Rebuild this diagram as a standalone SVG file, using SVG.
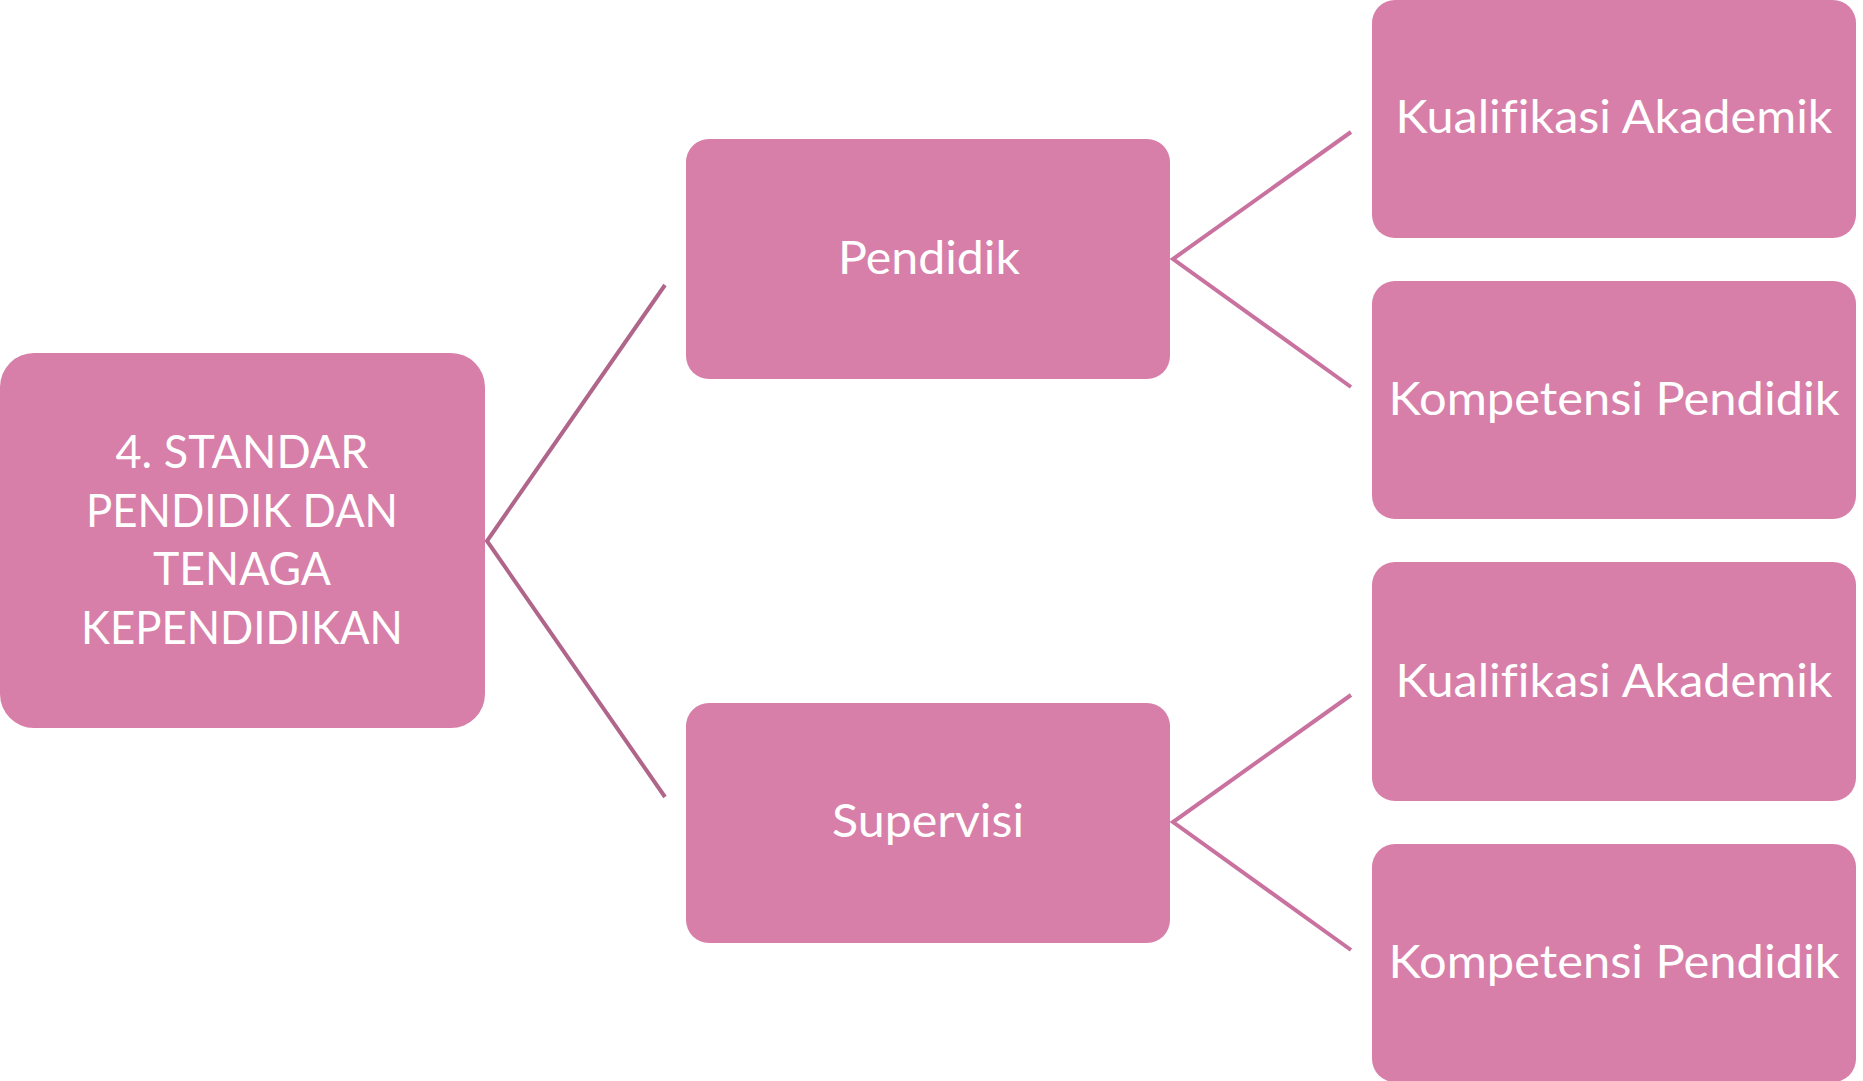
<svg xmlns="http://www.w3.org/2000/svg" width="1863" height="1081" viewBox="0 0 1863 1081">
<style>
.box{fill:#d77ea9;}
.t{font-family:Lato,"Open Sans","Liberation Sans",sans-serif;font-size:46px;fill:#ffffff;text-anchor:middle;font-variant-ligatures:none;font-feature-settings:"liga" 0;}
.c1{stroke:#b0658a;stroke-width:4;fill:none;}
.c2{stroke:#c9729f;stroke-width:4;fill:none;}
</style>
<rect width="1863" height="1081" fill="#ffffff"/>
<g id="connectors">
<polyline class="c1" points="665,285 487,541 665,797"/>
<polyline class="c2" points="1351,132 1173,259 1351,387"/>
<polyline class="c2" points="1351,695 1173,822 1351,950"/>
</g>
<g id="root">
<rect class="box" x="0" y="353" width="485" height="375" rx="34"/>
<text class="t" x="242" y="468" textLength="253" lengthAdjust="spacingAndGlyphs">4. STANDAR</text>
<text class="t" x="242" y="527" textLength="312" lengthAdjust="spacingAndGlyphs">PENDIDIK DAN</text>
<text class="t" x="242" y="585" textLength="178" lengthAdjust="spacingAndGlyphs">TENAGA</text>
<text class="t" x="242" y="644" textLength="322" lengthAdjust="spacingAndGlyphs">KEPENDIDIKAN</text>
</g>
<g id="pendidik">
<rect class="box" x="686" y="139" width="484" height="240" rx="23"/>
<text class="t" x="929" y="274" textLength="182" lengthAdjust="spacingAndGlyphs">Pendidik</text>
</g>
<g id="supervisi">
<rect class="box" x="686" y="703" width="484" height="240" rx="23"/>
<text class="t" x="928" y="837" textLength="192" lengthAdjust="spacingAndGlyphs">Supervisi</text>
</g>
<g id="kualifikasi1">
<rect class="box" x="1372" y="0" width="484" height="238" rx="23"/>
<text class="t" x="1614" y="133" textLength="437" lengthAdjust="spacingAndGlyphs">Kualifikasi Akademik</text>
</g>
<g id="kompetensi1">
<rect class="box" x="1372" y="281" width="484" height="238" rx="23"/>
<text class="t" x="1614" y="415" textLength="451" lengthAdjust="spacingAndGlyphs">Kompetensi Pendidik</text>
</g>
<g id="kualifikasi2">
<rect class="box" x="1372" y="562" width="484" height="239" rx="23"/>
<text class="t" x="1614" y="697" textLength="437" lengthAdjust="spacingAndGlyphs">Kualifikasi Akademik</text>
</g>
<g id="kompetensi2">
<rect class="box" x="1372" y="844" width="484" height="238" rx="23"/>
<text class="t" x="1614" y="978" textLength="451" lengthAdjust="spacingAndGlyphs">Kompetensi Pendidik</text>
</g>
</svg>
